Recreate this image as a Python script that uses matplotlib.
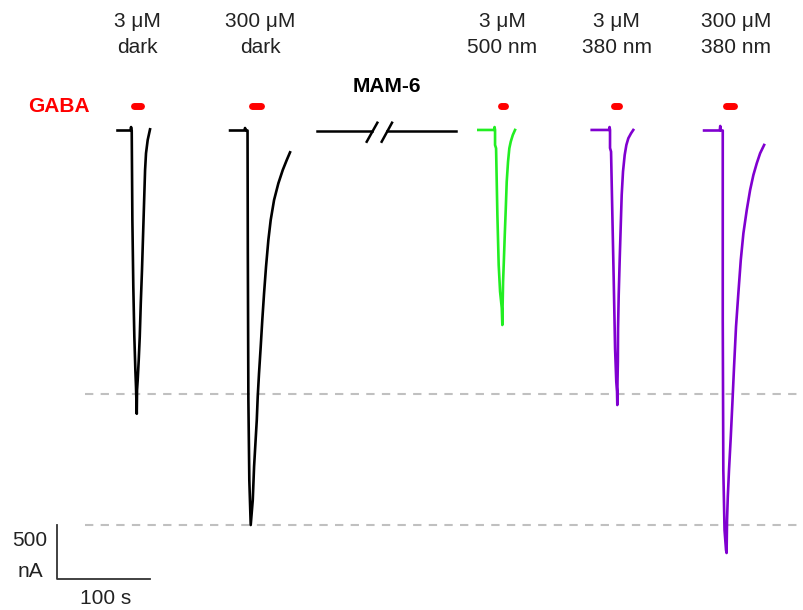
import matplotlib
matplotlib.use("Agg")
import matplotlib.pyplot as plt

plt.rcParams['font.family'] = ['Liberation Sans', 'DejaVu Sans']

# current traces: time (s, relative to GABA onset) and current (nA)
onsets = [79.8, 204.0, 469.0, 592.1, 712.8]

t1 = [-15.0, -1.1, -0.5, 0.2, 0.9, 1.9, 3.0, 4.1, 4.8, 5.6, 5.9, 6.6, 7.7, 8.8,
      9.9, 11.2, 12.3, 13.4, 14.5, 15.5, 17.3, 19.8]
i1 = [0, 0, 32, 0, -829, -1446, -1909, -2218, -2377, -2623, -2403, -2310, -2125, -1909,
      -1600, -1292, -983, -674, -366, -211, -88, 11]

t2 = [-18.7, -3.2, -2.7, -1.6, 0, 0.3, 0.9, 1.9, 3.4, 5.6, 7.0, 9.9, 10.9, 12.3, 14.1,
      15.8, 17.7, 19.8, 22.3, 24.8, 28.4, 33.0, 37.7, 42.0, 45.5]
i2 = [0, 0, 23, 0, 0, -1106, -2495, -3236, -3653, -3421, -3113, -2680, -2465, -2248, -2002,
      -1755, -1507, -1261, -1014, -829, -644, -489, -366, -273, -202]

t3 = [-17.9, -1.1, -0.5, 0, 0, 1.1, 2.5, 3.9, 5.4, 7.2, 7.8, 8.1, 8.6, 9.4, 10.4, 11.5,
      12.5, 13.9, 15.3, 16.8, 19.0, 21.4]
i3 = [5, 5, 32, 5, -134, -165, -782, -1245, -1493, -1643, -1801, -1625, -1400, -1215, -968, -720,
      -474, -289, -165, -104, -42, 5]

t4 = [-19.6, -1.1, -0.5, 0, 0, 1.1, 2.5, 4.0, 5.4, 6.7, 7.5, 7.8, 8.0, 8.4, 8.6, 9.3,
      10.4, 11.5, 12.5, 13.9, 15.7, 17.5, 19.6, 22.5, 24.9]
i4 = [5, 5, 32, 5, -162, -196, -782, -1400, -2017, -2326, -2418, -2542, -2326, -2141, -1831, -1523,
      -1183, -875, -597, -381, -227, -134, -72, -26, 5]

t5 = [-20.0, -3.2, -2.7, -2.1, 0, 0, 0.6, 1.9, 3.5, 4.1, 4.6, 5.4, 6.7, 8.6, 10.3, 12.1,
      14.2, 16.7, 19.3, 22.1, 25.7, 29.3, 32.8, 36.4, 40.0, 44.3]
i5 = [0, 0, 42, 0, 0, -1755, -3143, -3699, -3884, -3912, -3606, -3391, -3143, -2835, -2526, -2187,
      -1817, -1507, -1199, -952, -736, -551, -412, -304, -211, -134]

colors = ['black', 'black', '#22ee22', '#8000d0', '#8000d0']
conc = ['3 \u03bcM', '300 \u03bcM', '3 \u03bcM', '3 \u03bcM', '300 \u03bcM']
light = ['dark', 'dark', '500 nm', '380 nm', '380 nm']
label_x = [86.2, 217.3, 476.4, 599.3, 727.0]

# GABA application windows (s, relative to onset)
gaba_on = [-0.5, 1.6, 2.5, 0.7, -0.4]
gaba_off = [13.7, 17.7, 14.2, 13.2, 16.1]

ref_levels = [-2440, -3655]

# pixel scale of the original figure
S = 100 / 93.4   # s per px
N = 500 / 54     # nA per px

fig = plt.figure(figsize=(8.04, 6.1), dpi=100)
ax = fig.add_axes([0, 0, 1, 1])
ax.set_xlim(-57 * S, (804 - 57) * S)
ax.set_ylim(-(610 - 130.5) * N, 130.5 * N)
ax.axis('off')

for lvl in ref_levels:
    ax.plot([30, 792], [lvl, lvl], color='#c0c0c0', lw=1.5, ls=(0, (4, 3.5)), zorder=1)

traces = [(t1, i1), (t2, i2), (t3, i3), (t4, i4), (t5, i5)]
for k, (t, i) in enumerate(traces):
    x = [onsets[k] + v for v in t]
    ax.plot(x, i, color=colors[k], lw=1.9, solid_joinstyle='round', zorder=3)
    g0 = onsets[k] + gaba_on[k] + 3.6
    g1 = onsets[k] + gaba_off[k] - 3.6
    ax.plot([g0, g1], [227, 227], color='#ff0000', lw=5.0, solid_capstyle='round')
    ax.text(label_x[k], 958, conc[k], ha='center', va='baseline', fontsize=15, color='#222222')
    ax.text(label_x[k], 718, light[k], ha='center', va='baseline', fontsize=15, color='#222222')

# break symbol between dark and light recordings
ax.plot([278.1, 337.3], [0, 0], color='black', lw=1.8)
ax.plot([352.9, 427.2], [0, 0], color='black', lw=1.8)
ax.plot([331.6, 343.0], [-104, 72], color='black', lw=1.8)
ax.plot([347.6, 358.7], [-104, 72], color='black', lw=1.8)
ax.text(353, 359, 'MAM-6', ha='center', va='baseline', fontsize=15, fontweight='bold')

ax.text(2.1, 220, 'GABA', ha='center', va='center', fontsize=15, fontweight='bold', color='#ff0000')

# scale bar
ax.plot([0, 0, 100], [-3655, -4155, -4155], color='#333333', lw=1.3)
ax.text(-28.9, -3792, '500', ha='center', va='center', fontsize=15, color='#222222')
ax.text(-28.9, -4079, 'nA', ha='center', va='center', fontsize=15, color='#222222')
ax.text(52, -4329, '100 s', ha='center', va='center', fontsize=15, color='#222222')

fig.savefig('out.png', dpi=100)
